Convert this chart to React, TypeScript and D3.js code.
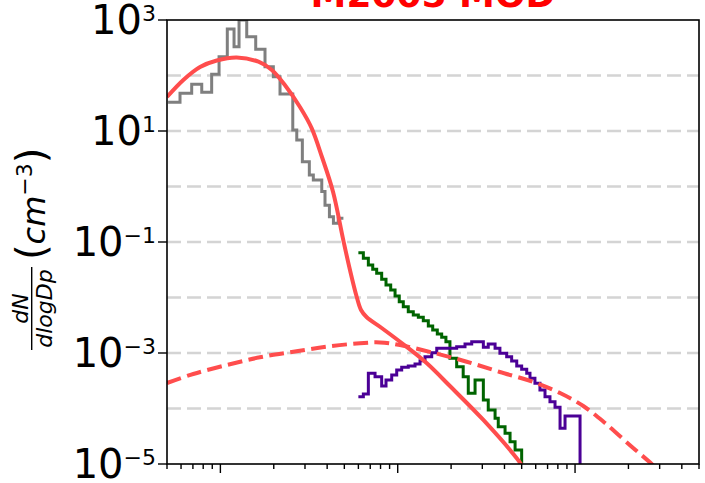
import * as d3 from "d3";

const TITLE = "M2005 MOD";

// y axis: labelled decades and dashed grid decades
const Y_TICK_EXPONENTS = [3, 1, -1, -3, -5];
const GRID_EXPONENTS = [2, 1, 0, -1, -2, -3, -4];

// grey histogram (small particles), bin left edges in nm, last entry = right edge
const SMPS_EDGES_NM = [5.07, 5.92, 6.89, 7.85, 8.93, 9.83, 10.94, 11.94, 12.74, 14.08, 15.82, 17.85, 19.89, 21.69, 25.6, 26.96, 28.99, 31.74, 33.43, 37.3, 38.9, 41.2, 43.4, 46.2, 49.4];
const SMPS_VALUES = [32.9, 47.8, 69.4, 49.8, 105, 218, 689, 330, 1000, 500, 297, 144, 95, 46.4, 10.4, 6.9, 2.8, 1.61, 1.31, 0.81, 0.46, 0.286, 0.217, 0.267, 0.267];

// green histogram
const GREEN_EDGES_NM = [60.0, 64.0, 68.3, 72.3, 76.1, 81.2, 85.9, 91.3, 96.6, 102, 107.5, 114.7, 122.4, 130.7, 139.4, 148.8, 157.5, 167.2, 177, 187, 197, 215, 234, 250, 273, 304, 324, 354, 369, 403, 430, 459, 500];
const GREEN_VALUES = [0.0641, 0.0508, 0.0385, 0.0322, 0.0273, 0.0213, 0.0168, 0.0137, 0.0106, 0.0084, 0.0068, 0.00555, 0.00484, 0.0044, 0.00382, 0.00306, 0.00259, 0.0022, 0.00192, 0.0016, 0.000803, 0.000566, 0.000374, 0.000188, 0.000326, 0.000142, 0.000094, 0.0000666, 0.000047, 0.0000357, 0.0000252, 0.0000179, 0];

// purple histogram
const PURPLE_EDGES_NM = [60, 64, 68.3, 74.5, 81.2, 85.9, 92.5, 98.7, 105.3, 114.7, 125.2, 133.6, 142.5, 155.5, 166, 215, 239.6, 261.4, 304, 324, 354, 377, 411.6, 439, 469, 500, 534, 557, 594, 634, 677, 722, 771, 823, 878, 1067];
const PURPLE_VALUES = [0.000163, 0.000182, 0.00043, 0.000374, 0.000254, 0.000326, 0.000402, 0.000494, 0.000552, 0.000583, 0.000634, 0.000726, 0.000857, 0.00101, 0.00122, 0.0013, 0.00145, 0.0016, 0.00127, 0.00145, 0.00122, 0.000988, 0.000857, 0.000718, 0.000583, 0.000508, 0.00043, 0.00035, 0.000284, 0.000215, 0.000163, 0.000133, 0.000105, 0.000044, 0.0000733, 0];

// model size distribution (solid red)
const MODEL_DP_NM = [5, 6.18, 7.68, 9.54, 12.36, 16.4, 19.5, 23.1, 28.1, 32.7, 37.4, 43.2, 49.3, 53.8, 58.7, 62.1, 66.9, 81.2, 112, 146, 197, 304, 469, 522];
const MODEL_VALUES = [41, 83, 142, 186, 211, 177, 126, 67.4, 27.1, 11.3, 3.4, 0.796, 0.109, 0.0313, 0.0103, 0.00596, 0.0044, 0.00282, 0.0013, 0.000652, 0.000254, 0.0000621, 0.0000127, 0.0000078];

// broad mode (dashed red)
const MODE_DP_NM = [5, 7.03, 10.9, 16.7, 25.8, 39.8, 61.3, 79.4, 103, 159, 245, 377, 582, 823, 1113, 1476, 2087, 2706, 3093];
const MODE_VALUES = [0.000288, 0.000419, 0.000608, 0.000837, 0.00105, 0.0013, 0.0015, 0.00155, 0.00139, 0.00101, 0.000697, 0.000455, 0.0003, 0.00019, 0.000111, 0.0000548, 0.0000205, 0.00001, 0.0000066];

const W = 705;
const H = 483;
const plot = { left: 167, right: 699, top: 20, bottom: 464 };
const FONT = "DejaVu Sans";
const RED = "#ff4d4d";

const x = d3.scaleLog().domain([5, 5000]).range([plot.left, plot.right]);
const y = d3.scaleLog().domain([1e-5, 1e3]).range([plot.bottom, plot.top]);
const yv = (v: number) => (v > 0 ? y(v) : plot.bottom + 30);

const zip = (a: number[], b: number[]) => a.map((d, i) => [d, b[i]] as [number, number]);

const stepLine = d3
  .line<[number, number]>()
  .x((d) => x(d[0]))
  .y((d) => yv(d[1]))
  .curve(d3.curveStepAfter);

const smoothLine = d3
  .line<[number, number]>()
  .x((d) => x(d[0]))
  .y((d) => y(d[1]))
  .curve(d3.curveCatmullRom.alpha(0.5));

const supText = (e: number) => (e < 0 ? "\u2212" + Math.abs(e) : String(e));

export default function App() {
  const xTicks = x.ticks();
  return (
    <svg
      width={W}
      height={H}
      style={{ position: "absolute", left: 0, top: 0, background: "#fff" }}
      fontFamily={FONT}
    >
      <defs>
        <clipPath id="plotclip">
          <rect x={plot.left} y={plot.top} width={plot.right - plot.left} height={plot.bottom - plot.top} />
        </clipPath>
      </defs>

      {/* grid */}
      {GRID_EXPONENTS.map((e) => (
        <line
          key={e}
          x1={plot.left}
          x2={plot.right}
          y1={y(10 ** e)}
          y2={y(10 ** e)}
          stroke="#d4d4d4"
          strokeWidth={2.6}
          strokeDasharray="14 6"
        />
      ))}

      <g clipPath="url(#plotclip)" fill="none" strokeLinejoin="miter">
        <path d={stepLine(zip(SMPS_EDGES_NM, SMPS_VALUES)) ?? ""} stroke="#7f7f7f" strokeWidth={3} />
        <path d={stepLine(zip(GREEN_EDGES_NM, GREEN_VALUES)) ?? ""} stroke="#006400" strokeWidth={3} />
        <path d={stepLine(zip(PURPLE_EDGES_NM, PURPLE_VALUES)) ?? ""} stroke="#4b0096" strokeWidth={3} />
        <path d={smoothLine(zip(MODEL_DP_NM, MODEL_VALUES)) ?? ""} stroke={RED} strokeWidth={4} />
        <path
          d={smoothLine(zip(MODE_DP_NM, MODE_VALUES)) ?? ""}
          stroke={RED}
          strokeWidth={4}
          strokeDasharray="14.8 6.4"
        />
      </g>

      {/* frame */}
      <rect
        x={plot.left}
        y={plot.top}
        width={plot.right - plot.left}
        height={plot.bottom - plot.top}
        fill="none"
        stroke="#000"
        strokeWidth={1.6}
      />

      {/* x ticks (labels fall outside the crop) */}
      {xTicks.map((t, i) => {
        const major = Math.abs(Math.log10(t) - Math.round(Math.log10(t))) < 1e-9;
        return (
          <line
            key={i}
            x1={x(t)}
            x2={x(t)}
            y1={plot.bottom}
            y2={plot.bottom + (major ? 9 : 5)}
            stroke="#000"
            strokeWidth={1.4}
          />
        );
      })}

      {/* y ticks and labels */}
      {Y_TICK_EXPONENTS.map((e) => (
        <g key={e}>
          <line x1={plot.left - 9} x2={plot.left} y1={y(10 ** e)} y2={y(10 ** e)} stroke="#000" strokeWidth={1.4} />
          <text x={156} y={y(10 ** e) + 14} textAnchor="end" fontSize={40} fill="#000">
            10
            <tspan fontSize={22} dy={-13}>
              {supText(e)}
            </tspan>
          </text>
        </g>
      ))}

      {/* y label */}
      <g transform="translate(45, 350) rotate(-90)" fill="#000">
        <line x1={0} x2={83} y1={-13.3} y2={-13.3} stroke="#000" strokeWidth={1.4} />
        <text x={41.5} y={-17} textAnchor="middle" fontStyle="italic" fontSize={22}>
          dN
        </text>
        <text x={41.5} y={6.5} textAnchor="middle" fontStyle="italic" fontSize={22}>
          dlogDp
        </text>
        <text x={90} y={0} fontSize={32}>
          <tspan fontSize={40}>(</tspan>
          <tspan fontStyle="italic">cm</tspan>
          <tspan fontSize={22} dy={-13}>
            {"\u22123"}
          </tspan>
          <tspan fontSize={40} dy={13}>
            )
          </tspan>
        </text>
      </g>

      {/* title, mostly cropped off the top */}
      <text x={433} y={7} textAnchor="middle" fontWeight="bold" fontSize={36} fill="#ff0000">
        {TITLE}
      </text>
    </svg>
  );
}
